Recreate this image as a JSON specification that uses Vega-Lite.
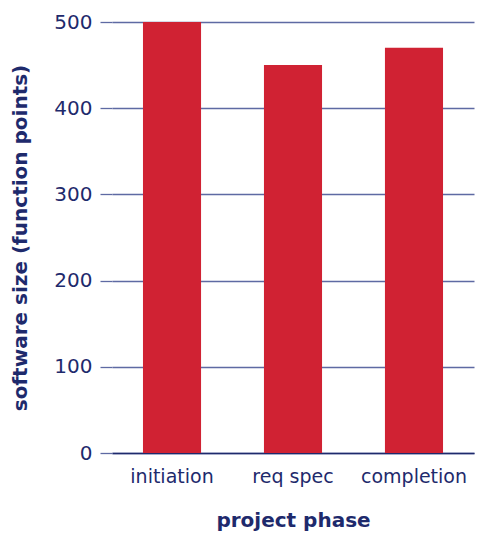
{
  "$schema": "https://vega.github.io/schema/vega-lite/v6.json",
  "autosize": "none",
  "padding": {"left": 112, "top": 22, "right": 7, "bottom": 81},
  "width": 362,
  "height": 431,
  "background": "white",
  "data": {"values": [
    {"phase": "initiation", "size": 500},
    {"phase": "req spec", "size": 450},
    {"phase": "completion", "size": 470}
  ]},
  "mark": {"type": "bar", "color": "#D02233"},
  "encoding": {
    "x": {
      "field": "phase", "type": "nominal", "sort": null,
      "scale": {"paddingInner": 0.52, "paddingOuter": 0.256},
      "axis": {
        "title": "project phase", "labelAngle": 0, "ticks": false,
        "domain": true, "domainColor": "#1E2A6C", "domainWidth": 1.5,
        "labelPadding": 14, "titlePadding": 24,
        "labelFont": "DejaVu Sans", "labelFontSize": 19, "labelColor": "#1E2A6C",
        "titleFont": "DejaVu Sans", "titleFontSize": 20, "titleFontWeight": "bold", "titleColor": "#1E2A6C"
      }
    },
    "y": {
      "field": "size", "type": "quantitative",
      "scale": {"domain": [0, 500], "nice": false},
      "axis": {
        "title": "software size (function points)", "values": [0, 100, 200, 300, 400, 500],
        "domain": false, "grid": true, "gridColor": "#5E6AA3", "gridWidth": 1.3,
        "ticks": true, "tickSize": 12, "tickColor": "#5E6AA3", "tickWidth": 1.3,
        "labelPadding": 8, "titlePadding": 23,
        "labelFont": "DejaVu Sans", "labelFontSize": 20, "labelColor": "#1E2A6C",
        "titleFont": "DejaVu Sans", "titleFontSize": 20, "titleFontWeight": "bold", "titleColor": "#1E2A6C"
      }
    }
  },
  "config": {"view": {"stroke": null}}
}
